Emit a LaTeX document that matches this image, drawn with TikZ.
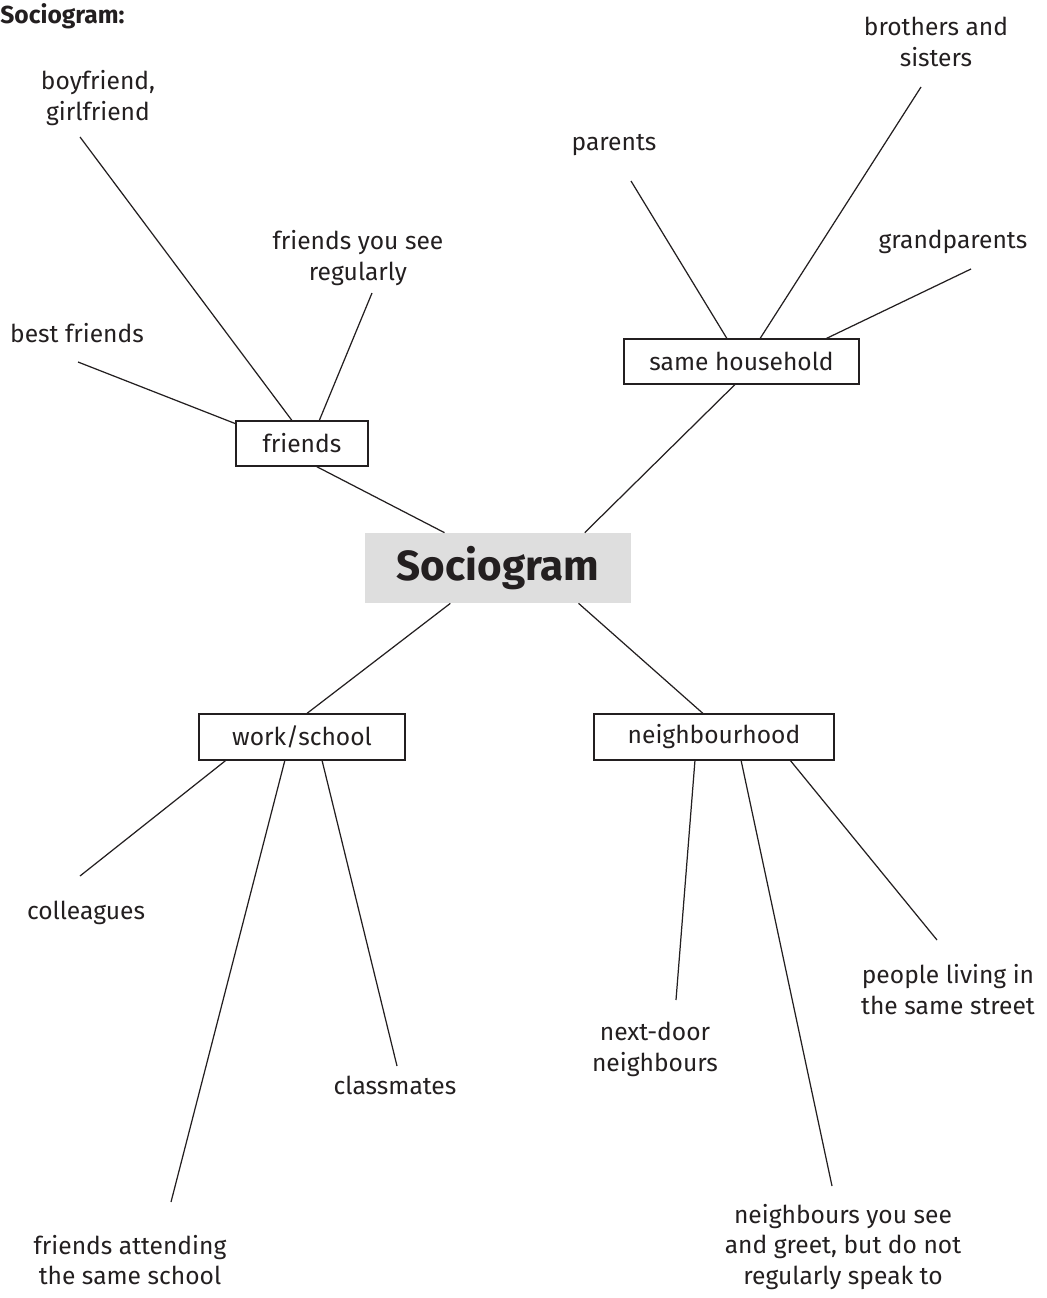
\documentclass[tikz,border=0pt]{standalone}
\usepackage{fontspec}
\setmainfont{Fira Sans}
\usepackage{tikz}
\usetikzlibrary{calc}

\definecolor{inkgray}{HTML}{231F20}

\begin{document}
\begin{tikzpicture}[x=0.02cm, y=-0.02cm,
      font=\fontsize{14}{17.6}\selectfont, text=inkgray,
      box/.style={rectangle, draw=inkgray, line width=0.7pt, inner sep=0pt, minimum height=0.9cm},
      centre/.style={rectangle, fill=black!13, inner sep=0pt, minimum width=5.34cm, minimum height=1.4cm,
                     font=\fontsize{24}{28}\selectfont\bfseries},
      leaf/.style={align=center, inner sep=0pt},
      link/.style={draw=inkgray, line width=0.7pt}]

      \useasboundingbox (0,0) rectangle (1046,1298);

      \node[anchor=west, inner sep=0pt, font=\fontsize{14}{17}\selectfont\bfseries] (title) at (0,16) {Sociogram:};

      % Centre and groups
      \node[centre] (socio) at (498,568) {Sociogram};
      \node[box, minimum width=2.64cm] (friends) at (302,443.5) {friends};
      \node[box, minimum width=4.7cm] (house) at (741.5,361.5) {same household};
      \node[box, minimum width=4.12cm, minimum height=0.92cm] (work) at (302,737) {work/school};
      \node[box, minimum width=4.8cm, minimum height=0.92cm] (hood) at (714,737) {neighbourhood};

      % Labels
      \node[leaf] (boyfriend) at (98,98) {boyfriend,\\girlfriend};
      \node[leaf] (best) at (77,333) {best friends};
      \node[leaf] (regular) at (358,258) {friends you see\\regularly};
      \node[leaf] (parents) at (614,145) {parents};
      \node[leaf] (siblings) at (936,42) {brothers and\\sisters};
      \node[leaf] (grand) at (953,242) {grandparents};
      \node[leaf] (colleagues) at (86,913) {colleagues};
      \node[leaf] (classmates) at (395,1085) {classmates};
      \node[leaf] (attending) at (130,1260) {friends attending\\the same school};
      \node[leaf] (nextdoor) at (655,1049) {next-door\\neighbours};
      \node[leaf] (street) at (948,990) {people living in\\the same street};
      \node[leaf] (greet) at (843,1247) {neighbours you see\\and greet, but do not\\regularly speak to};

      % Free ends of the lines
      \coordinate (boyfriend-end) at (80,137);
      \coordinate (best-end) at (78,362);
      \coordinate (regular-end) at (372,293);
      \coordinate (parents-end) at (631,181);
      \coordinate (siblings-end) at (921,87);
      \coordinate (grand-end) at (971,269);
      \coordinate (colleagues-end) at (80,876);
      \coordinate (attending-end) at (171,1202);
      \coordinate (classmates-end) at (397,1066);
      \coordinate (nextdoor-end) at (676,1000);
      \coordinate (greet-end) at (832,1186);
      \coordinate (street-end) at (937,940);

      % Centre to groups
      \draw[link] ($(socio.north west)!.30!(socio.north east)$) -- ($(friends.south west)!.61!(friends.south east)$);
      \draw[link] ($(socio.north west)!.824!(socio.north east)$) -- ($(house.south west)!.472!(house.south east)$);
      \draw[link] ($(socio.south west)!.322!(socio.south east)$) -- ($(work.north west)!.524!(work.north east)$);
      \draw[link] ($(socio.south west)!.801!(socio.south east)$) -- ($(hood.north west)!.454!(hood.north east)$);

      % Groups to leaves
      \draw[link] ($(friends.north west)!.07!(friends.south west)$) -- (best-end);
      \foreach \f/\e in {.424/boyfriend-end, .63/regular-end} {
        \draw[link] ($(friends.north west)!\f!(friends.north east)$) -- (\e);
      }
      \foreach \f/\e in {.438/parents-end, .579/siblings-end, .86/grand-end} {
        \draw[link] ($(house.north west)!\f!(house.north east)$) -- (\e);
      }
      \foreach \f/\e in {.131/colleagues-end, .417/attending-end, .597/classmates-end} {
        \draw[link] ($(work.south west)!\f!(work.south east)$) -- (\e);
      }
      \foreach \f/\e in {.421/nextdoor-end, .6125/greet-end, .817/street-end} {
        \draw[link] ($(hood.south west)!\f!(hood.south east)$) -- (\e);
      }
    \end{tikzpicture}
\end{document}
